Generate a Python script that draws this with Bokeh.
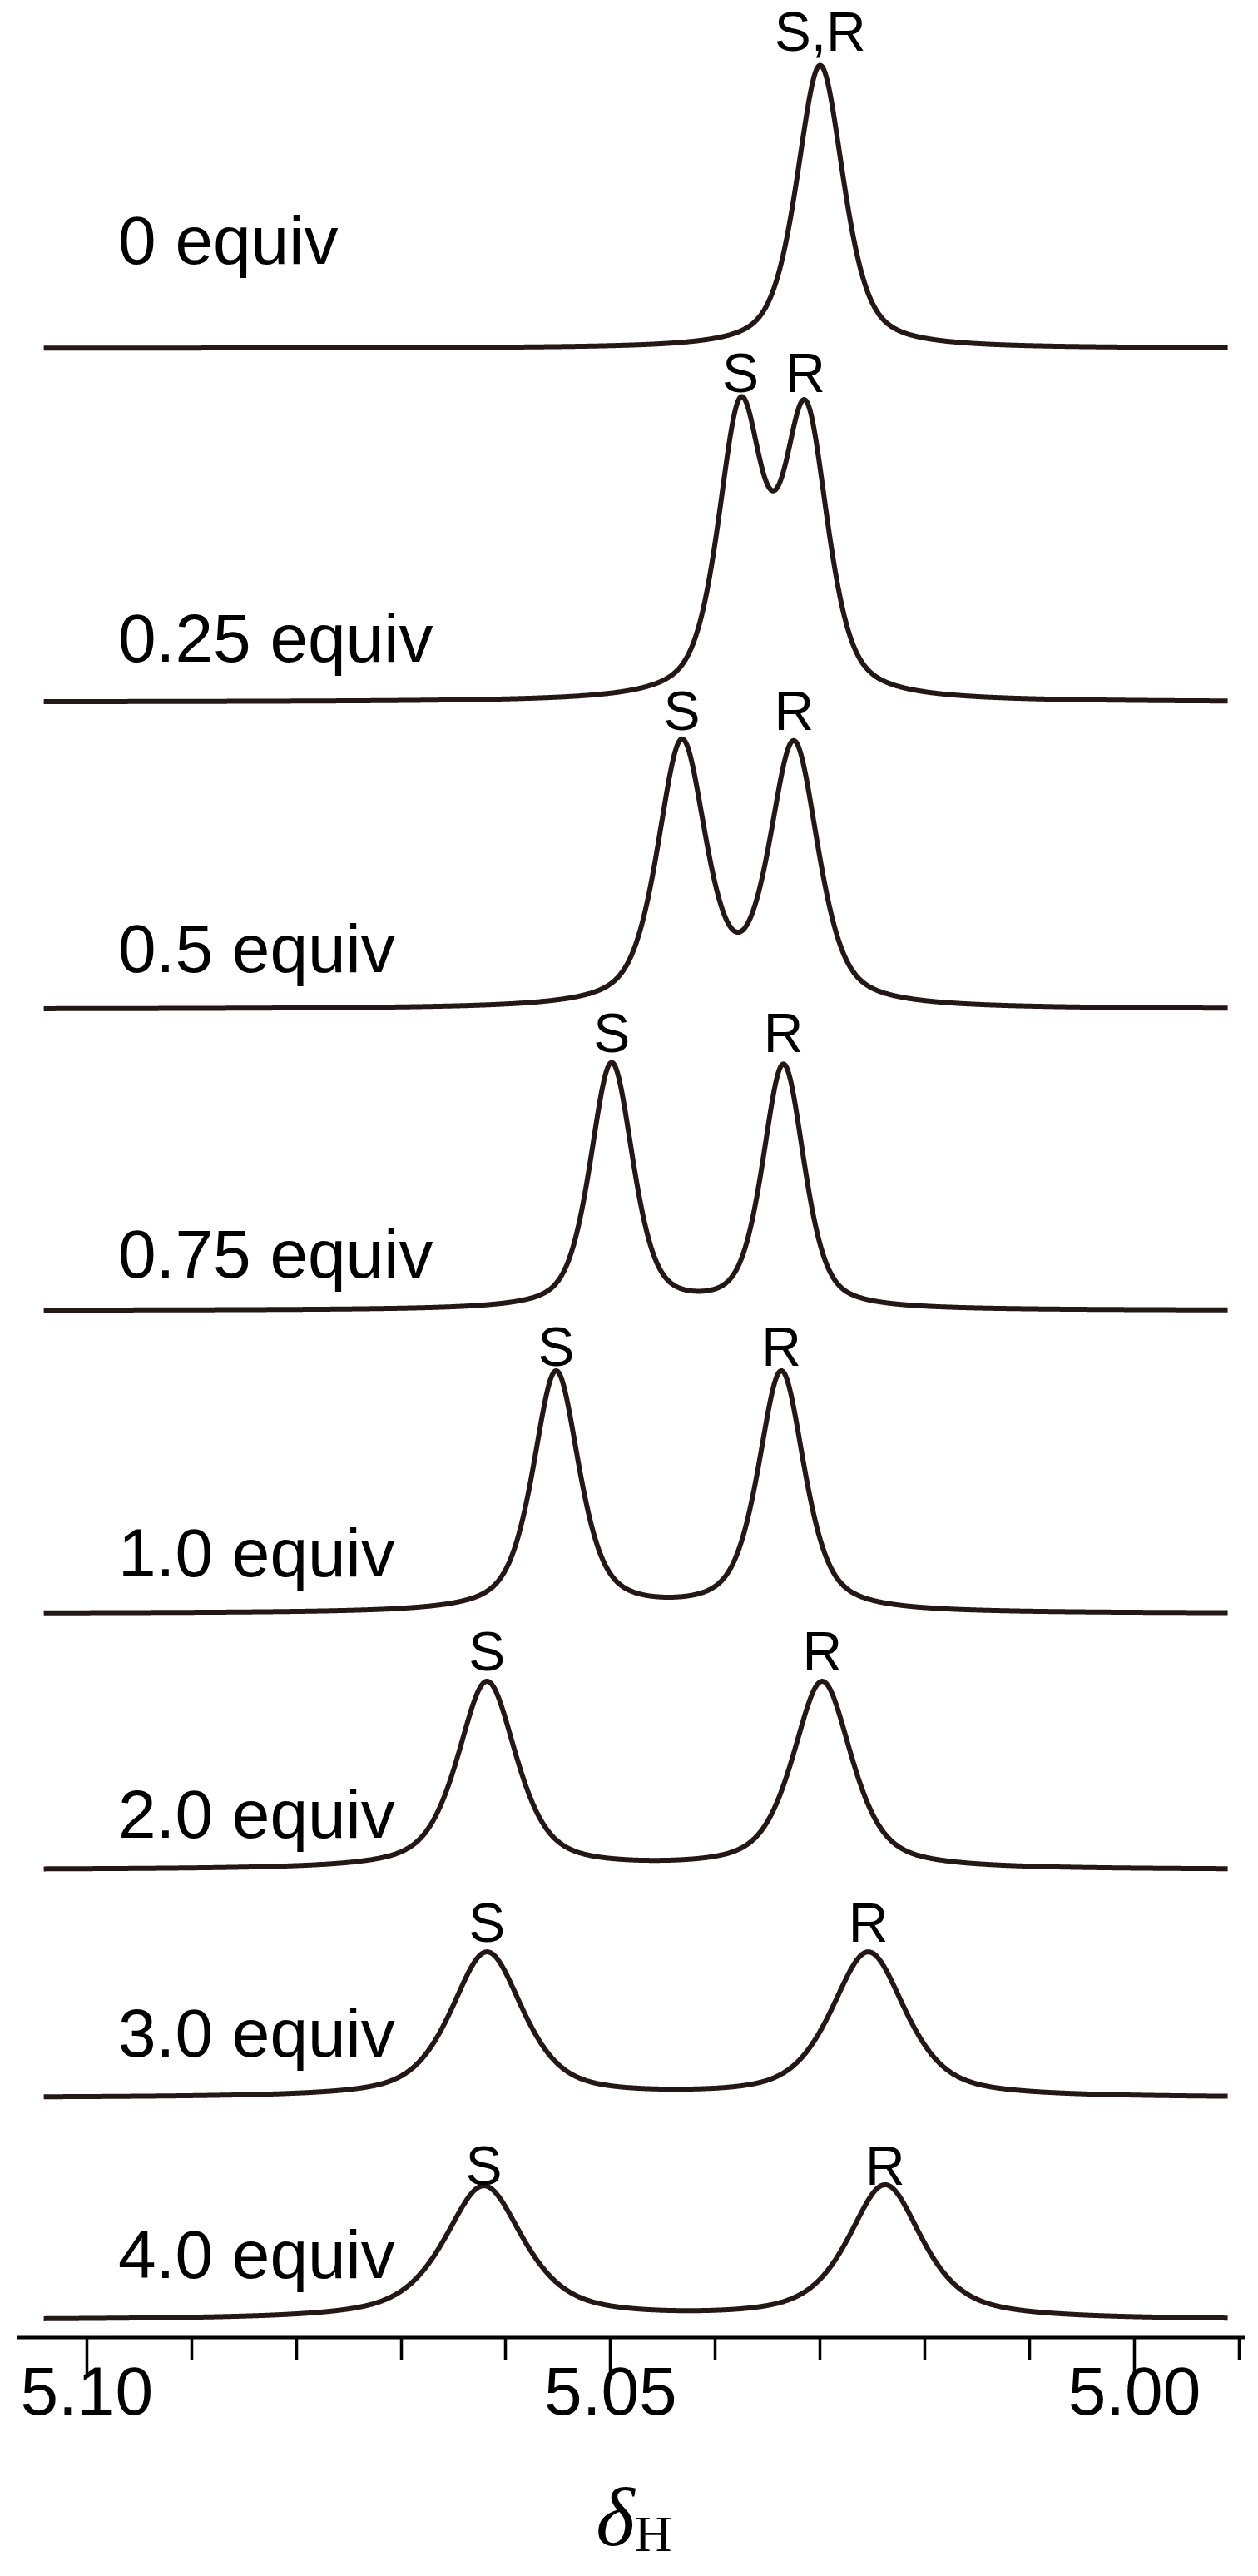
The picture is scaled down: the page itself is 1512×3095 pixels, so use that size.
import numpy as np
from bokeh.plotting import figure
from bokeh.layouts import column
from bokeh.models import Range1d, FixedTicker, NumeralTickFormatter
from bokeh.core.properties import value
from bokeh.embed import file_html
from bokeh.resources import INLINE

# ---------------- data ----------------
equiv_labels = ["0 equiv", "0.25 equiv", "0.5 equiv", "0.75 equiv",
                "1.0 equiv", "2.0 equiv", "3.0 equiv", "4.0 equiv"]
# chemical shifts (ppm) of the S and R signals
s_shift = [5.0300, 5.0376, 5.0432, 5.0499, 5.0552, 5.0618, 5.0618, 5.0621]
r_shift = [5.0300, 5.0314, 5.0325, 5.0335, 5.0337, 5.0298, 5.0254, 5.0238]
# peak intensities (a.u.)
s_height = [170, 338, 314, 295, 289, 225, 174, 160]
r_height = [170, 334, 312, 293, 289, 225, 174, 161]
# line widths (ppm, full width at half height)
s_fwhm = [0.00530, 0.00505, 0.00550, 0.00485, 0.00525, 0.00670, 0.00820, 0.00910]
r_fwhm = [0.00530, 0.00505, 0.00550, 0.00470, 0.00525, 0.00670, 0.00845, 0.00850]
# Lorentzian fraction of the line shape
lorentz_frac = [0.55, 0.55, 0.55, 0.50, 0.60, 0.60, 0.60, 0.70]
s_label = ["S,R", "S", "S", "S", "S", "S", "S", "S"]
r_label = ["", "R", "R", "R", "R", "R", "R", "R"]
tick_values = [5.10, 5.05, 5.00]
minor_tick_values = [5.09, 5.08, 5.07, 5.06, 5.04, 5.03, 5.02, 5.01, 4.99]
x_label = "δ"
x_label_sub = "H"

# ---------------- layout (stacking) ----------------
stack_offset = [2390, 1965, 1596, 1234, 870, 562, 288, 21]
equiv_label_y = [2520, 2042, 1669, 1302, 943, 629, 366, 100]
peak_label_y = [2771, 2361, 1955, 1568, 1191, 825, 499, 207]
equiv_label_x = 5.0970
spec_start, spec_end = 5.1041, 4.9911

INK = "#231815"
FONT = "Liberation Sans"
X_RANGE = Range1d(5.10665, 4.98944)

p = figure(width=1496, height=2942, output_backend="svg", toolbar_location=None,
           x_range=X_RANGE, y_range=Range1d(0, 2808),
           y_axis_location=None, min_border_left=20, min_border_right=0,
           min_border_top=0, min_border_bottom=134)
p.outline_line_color = None
p.xgrid.visible = False
p.ygrid.visible = False
p.background_fill_color = "white"
p.border_fill_color = "white"


def line_shape(x, c, fwhm, eta):
    hw = fwhm / 2.0
    u = ((x - c) / hw) ** 2
    return eta / (1.0 + u) + (1.0 - eta) * np.exp(-np.log(2.0) * u)


grid = np.linspace(spec_start, spec_end, 1800)
xs, ys = [], []
for i in range(len(equiv_labels)):
    y = (stack_offset[i]
         + s_height[i] * line_shape(grid, s_shift[i], s_fwhm[i], lorentz_frac[i])
         + r_height[i] * line_shape(grid, r_shift[i], r_fwhm[i], lorentz_frac[i]))
    xs.append(grid)
    ys.append(y)

p.multi_line(xs=xs, ys=ys, line_color=INK, line_width=6, line_join="round")

# condition labels
p.text(x=[equiv_label_x] * len(equiv_labels), y=equiv_label_y, text=equiv_labels,
       text_font=value(FONT), text_font_size="82px", text_color="black",
       text_align="left", text_baseline="alphabetic")

# S / R labels
lab_x, lab_y, lab_t = [], [], []
for i in range(len(equiv_labels)):
    lab_x.append(s_shift[i]); lab_y.append(peak_label_y[i]); lab_t.append(s_label[i])
    if r_label[i]:
        lab_x.append(r_shift[i]); lab_y.append(peak_label_y[i]); lab_t.append(r_label[i])
p.text(x=lab_x, y=lab_y, text=lab_t, text_font=value(FONT), text_font_size="66px",
       text_color="black", text_align="center", text_baseline="alphabetic")

ax = p.xaxis[0]
ax.ticker = FixedTicker(ticks=tick_values, minor_ticks=minor_tick_values)
ax.formatter = NumeralTickFormatter(format="0.00")
ax.axis_line_width = 4
ax.axis_line_color = "black"
ax.major_tick_line_width = 3.5
ax.major_tick_line_color = "black"
ax.minor_tick_line_width = 3.5
ax.minor_tick_line_color = "black"
ax.major_tick_in = 0
ax.major_tick_out = 45
ax.minor_tick_in = 0
ax.minor_tick_out = 27
ax.major_label_standoff = -10
ax.major_label_text_font = FONT
ax.major_label_text_font_size = "82px"
ax.major_label_text_color = "black"

# axis title strip (delta with subscript H)
p2 = figure(width=1496, height=137, output_backend="svg", toolbar_location=None,
            x_range=X_RANGE, y_range=Range1d(0, 137),
            x_axis_location=None, y_axis_location=None,
            min_border_left=20, min_border_right=0, min_border_top=0, min_border_bottom=0)
p2.outline_line_color = None
p2.xgrid.visible = False
p2.ygrid.visible = False
p2.background_fill_color = "white"
p2.border_fill_color = "white"
p2.text(x=[5.0514], y=[55], text=[x_label], text_font=value("Liberation Serif"),
        text_font_style="italic", text_font_size="100px", text_color="black",
        text_align="left", text_baseline="alphabetic")
p2.text(x=[5.0477], y=[36], text=[x_label_sub], text_font=value("Liberation Serif"),
        text_font_size="62px", text_color="black",
        text_align="left", text_baseline="alphabetic")

layout = column(p, p2, spacing=0)
open("out.html", "w").write(file_html(layout, INLINE))
